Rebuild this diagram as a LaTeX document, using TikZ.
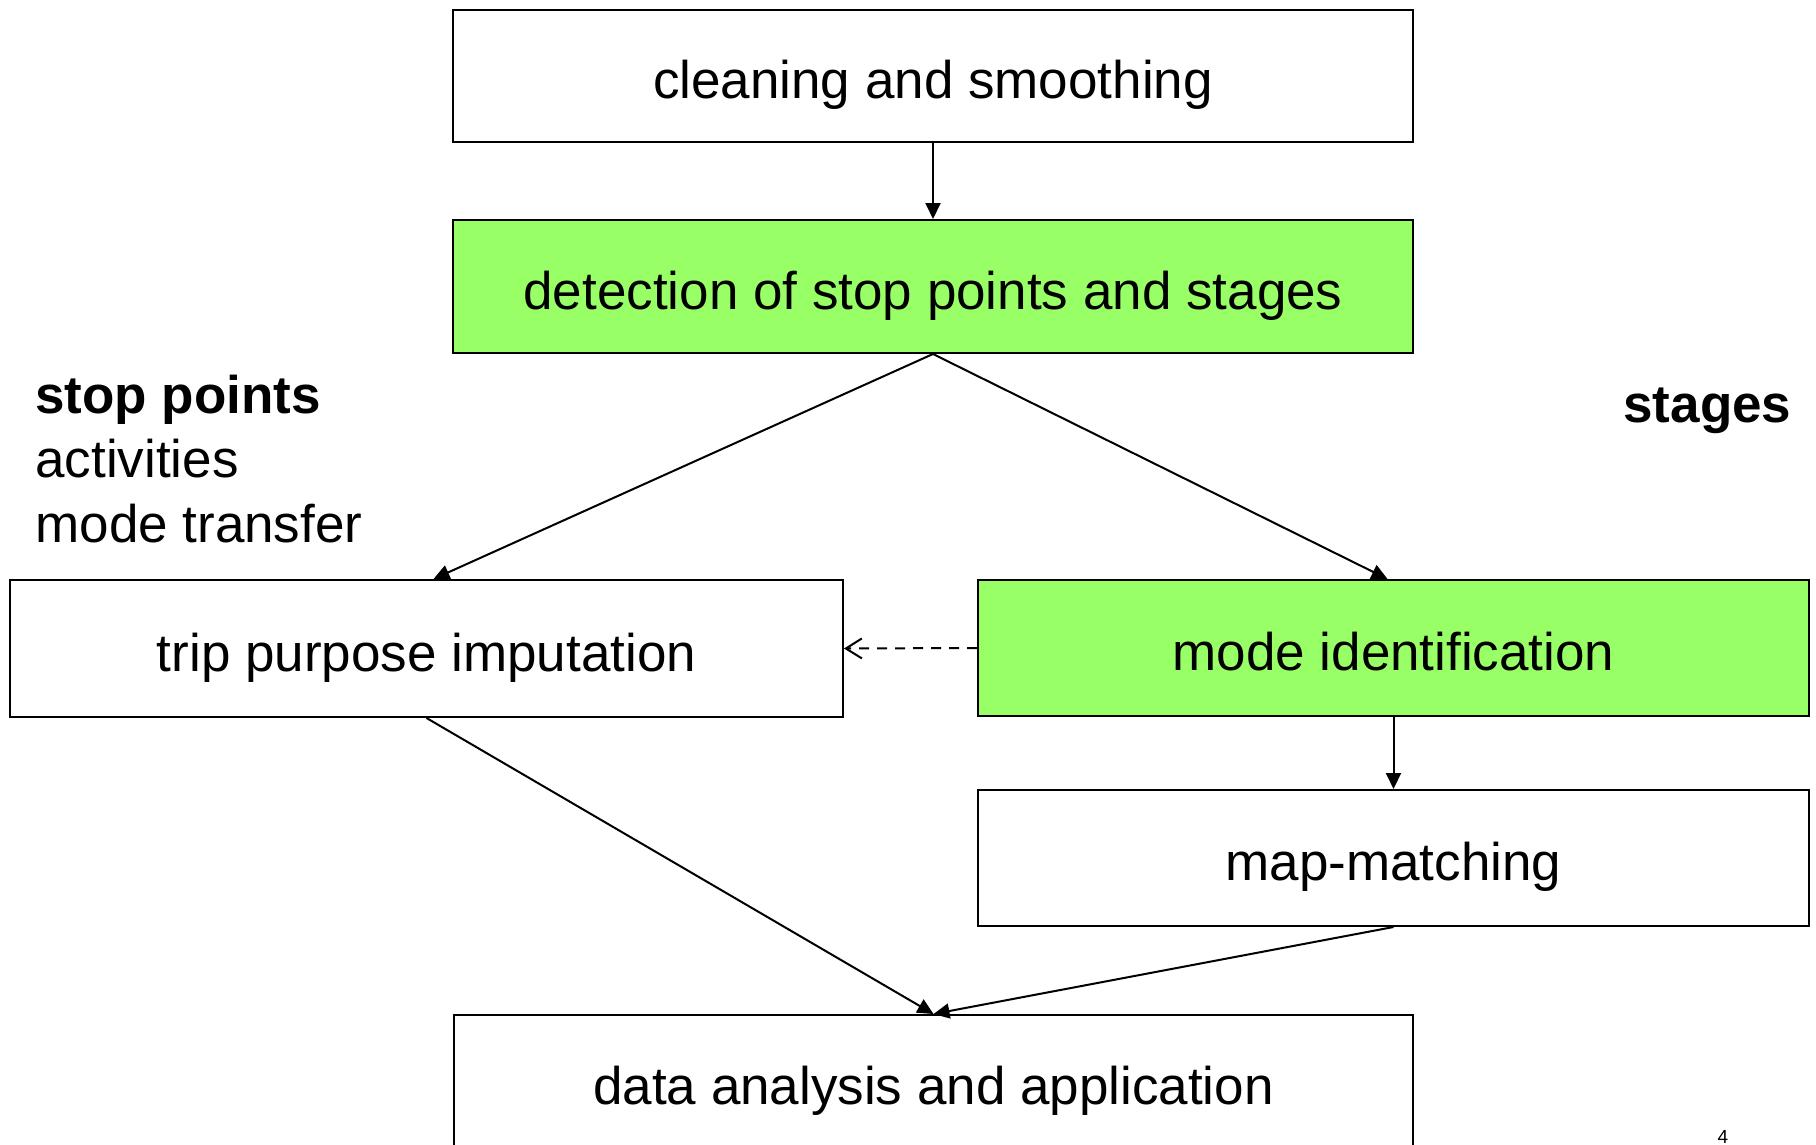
\documentclass[tikz,border=0pt]{standalone}
\usepackage{fontspec}
\setmainfont{Liberation Sans}
\usetikzlibrary{arrows.meta,calc}
\definecolor{boxgreen}{RGB}{153,255,102}
\tikzset{
  box/.style={draw=black, line width=1pt, inner sep=0pt, text height=22.5pt, text depth=0pt, font=\fontsize{26.5pt}{32pt}\selectfont},
  conn/.style={line width=1pt, -{Triangle[length=8pt,width=7.5pt]}},
  dconn/.style={line width=1pt, dash pattern=on 5pt off 4pt, -{Straight Barb[length=8pt,width=10pt]}},
  lbl/.style={inner sep=0pt, anchor=base west, font=\fontsize{26.5pt}{32pt}\selectfont}
}
\begin{document}
\begin{tikzpicture}[x=0.5pt,y=-0.5pt]
\clip (0,0) rectangle (1816,1145);
\fill[white] (0,0) rectangle (1816,1145);
\node[box, minimum width=480pt, minimum height=66pt] (clean) at (933,76) {cleaning and smoothing};
\node[box, fill=boxgreen, minimum width=480pt, minimum height=66.5pt] (detect) at (933,286.5) {detection of stop points and stages};
\node[box, minimum width=416.5pt, minimum height=68.5pt] (trip) at (426.5,648.5) {trip purpose imputation};
\node[box, fill=boxgreen, minimum width=415.5pt, minimum height=68pt] (mode) at (1393.5,648) {mode identification};
\node[box, minimum width=415.5pt, minimum height=68pt] (map) at (1393.5,858) {map-matching};
\node[box, minimum width=479.5pt, minimum height=66.5pt] (data) at (933.5,1081.5) {data analysis and application};
\node[lbl, font=\fontsize{26.5pt}{32pt}\selectfont\bfseries] (sp) at (35,413) {stop points};
\node[lbl] (act) at (35,477) {activities};
\node[lbl] (mt) at (35,542) {mode transfer};
\node[lbl, font=\fontsize{26.5pt}{32pt}\selectfont\bfseries] (stg) at (1623,422) {stages};
\node[inner sep=0pt, anchor=base, font=\fontsize{9.5pt}{11pt}\selectfont] (pg) at (1723,1143) {4};
\coordinate (tripin) at ($(trip.north)+(7,0)$);
\coordinate (modein) at ($(mode.north)+(-6,0)$);
\draw[conn] (clean.south) -- (detect.north);
\draw[conn] (detect.south) -- (tripin);
\draw[conn] (detect.south) -- (modein);
\draw[dconn] (mode.west) -- (trip.east);
\draw[conn] (mode.south) -- (map.north);
\draw[conn] (trip.south) -- (data.north);
\draw[conn] (map.south) -- (data.north);
\end{tikzpicture}
\end{document}
